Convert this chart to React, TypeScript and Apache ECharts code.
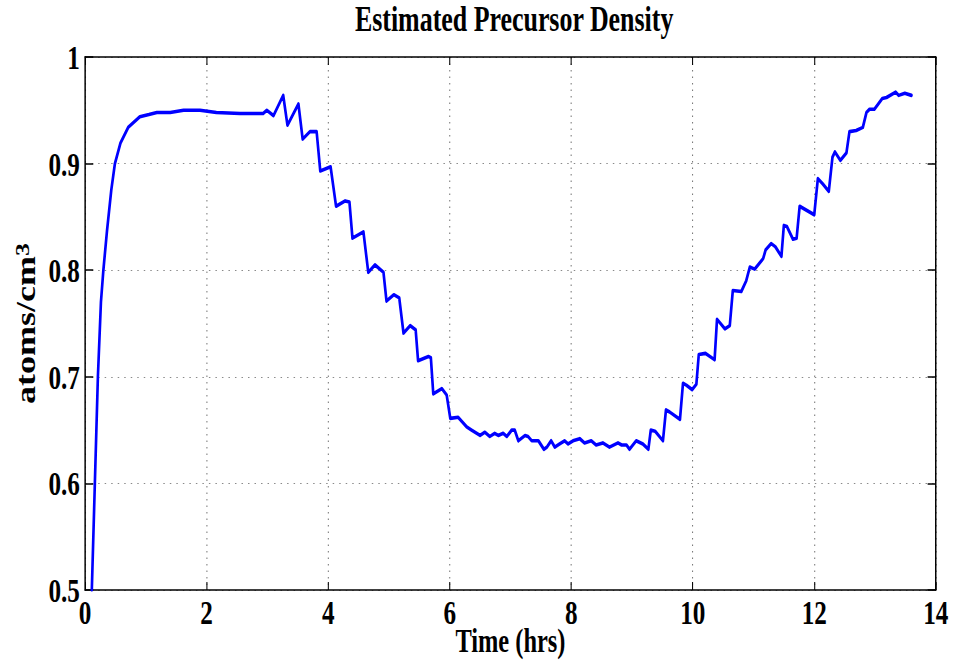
import React, { useEffect, useRef } from "react";
import * as echarts from "echarts";

// Elapsed time (hours) and estimated precursor density (atoms/cm^3)
const hours = [
  0.11, 0.16, 0.21, 0.26, 0.3, 0.36, 0.43, 0.49, 0.58, 0.71, 0.9, 1.05, 1.18, 1.4, 1.62, 1.89,
  2.16, 2.55, 2.93, 2.99, 3.1, 3.26, 3.33, 3.51, 3.58, 3.7, 3.81, 3.87, 4.04, 4.13, 4.28, 4.35,
  4.4, 4.58, 4.66, 4.77, 4.91, 4.96, 5.08, 5.17, 5.24, 5.35, 5.44, 5.48, 5.65, 5.69, 5.73, 5.87,
  5.95, 6.01, 6.14, 6.28, 6.36, 6.5, 6.58, 6.66, 6.74, 6.8, 6.88, 6.94, 7.02, 7.07, 7.13, 7.24,
  7.29, 7.35, 7.46, 7.55, 7.6, 7.67, 7.73, 7.81, 7.89, 7.95, 8.03, 8.14, 8.22, 8.33, 8.41, 8.52,
  8.63, 8.77, 8.83, 8.91, 8.96, 9.07, 9.18, 9.27, 9.31, 9.38, 9.51, 9.56, 9.62, 9.79, 9.84, 9.9,
  9.99, 10.06, 10.1, 10.21, 10.36, 10.4, 10.53, 10.61, 10.66, 10.8, 10.88, 10.94, 11.02, 11.16,
  11.2, 11.29, 11.36, 11.46, 11.5, 11.55, 11.65, 11.71, 11.76, 11.88, 12.0, 12.06, 12.14, 12.24,
  12.3, 12.34, 12.43, 12.53, 12.58, 12.69, 12.8, 12.86, 12.91, 12.99, 13.12, 13.19, 13.34, 13.39,
  13.49, 13.6,
];

const density = [
  0.5, 0.6, 0.7, 0.77, 0.8, 0.837, 0.875, 0.9, 0.919, 0.934, 0.944, 0.946, 0.948, 0.948, 0.95, 0.95,
  0.948, 0.947, 0.947, 0.95, 0.945, 0.964, 0.936, 0.956, 0.923, 0.93, 0.93, 0.893, 0.897, 0.86, 0.865, 0.864,
  0.83, 0.836, 0.798, 0.805, 0.798, 0.771, 0.777, 0.774, 0.741, 0.748, 0.744, 0.715, 0.719, 0.718, 0.684, 0.689,
  0.683, 0.661, 0.662, 0.653, 0.65, 0.645, 0.648, 0.644, 0.647, 0.645, 0.647, 0.644, 0.65, 0.65, 0.64, 0.645,
  0.644, 0.64, 0.64, 0.632, 0.634, 0.64, 0.634, 0.637, 0.64, 0.637, 0.64, 0.642, 0.638, 0.64, 0.636, 0.638,
  0.634, 0.638, 0.636, 0.636, 0.632, 0.64, 0.637, 0.632, 0.65, 0.649, 0.64, 0.669, 0.667, 0.66, 0.694, 0.692,
  0.688, 0.693, 0.721, 0.722, 0.716, 0.754, 0.745, 0.748, 0.781, 0.78, 0.79, 0.803, 0.801, 0.811,
  0.819, 0.825, 0.822, 0.813, 0.842, 0.841, 0.829, 0.83, 0.86, 0.856, 0.852, 0.886, 0.881, 0.874,
  0.906, 0.911, 0.903, 0.91, 0.93, 0.931, 0.934, 0.948, 0.951, 0.951, 0.961, 0.962, 0.967, 0.964,
  0.966, 0.964,
];

// Axis ranges and tick spacing
const timeRange = [0, 14];
const timeStep = 2;
const densityRange = [0.5, 1];
const densityStep = 0.1;

const titleText = "Estimated Precursor Density";
const xName = "Time (hrs)";
const yName = "atoms/cm{sup|3}";

// The figure uses a condensed typeface; the chart is laid out on a wider
// canvas and squeezed horizontally to get the narrow bold serif look.
const VIEW_W = 955;
const VIEW_H = 666;
const CANVAS_W = 1290;
const SQUEEZE = VIEW_W / CANVAS_W;

const FONT = "'Liberation Serif', 'Times New Roman', Times, serif";

export default function App() {
  const ref = useRef<HTMLDivElement>(null);

  useEffect(() => {
    if (!ref.current) return;
    const chart = echarts.init(ref.current, undefined, { renderer: "svg" });

    const points = hours.map((h, i) => [h, density[i]]);
    const gridLeft = 115;
    const gridRight = 26;
    const gridTop = 57;
    const gridBottom = 76;
    const plotCenter = gridLeft + (CANVAS_W - gridLeft - gridRight) / 2;

    const label = {
      color: "#000",
      fontFamily: FONT,
      fontWeight: "bold" as const,
      fontSize: 34,
    };
    const boxLine = { show: true, onZero: false, lineStyle: { color: "#000", width: 1.5 } };
    const boxLineV = { show: true, onZero: false, lineStyle: { color: "#000", width: 2 } };

    chart.setOption({
      animation: false,
      backgroundColor: "#fff",
      title: {
        text: titleText,
        left: plotCenter,
        top: -3,
        textAlign: "center",
        textStyle: { ...label, fontSize: 35 },
      },
      grid: {
        left: gridLeft,
        right: gridRight,
        top: gridTop,
        bottom: gridBottom,
        containLabel: false,
        outerBoundsMode: "none",
      },
      xAxis: [
        {
          type: "value",
          min: timeRange[0],
          max: timeRange[1],
          interval: timeStep,
          position: "bottom",
          axisLine: boxLine,
          axisTick: { show: true, inside: true, length: 8, lineStyle: { color: "#000", width: 1.4 } },
          axisLabel: { ...label, margin: 5 },
          splitLine: {
            show: true,
            lineStyle: { color: "#777", width: 1.4, type: [1.5, 5] },
          },
          name: xName,
          nameLocation: "middle",
          nameGap: 33,
          nameMoveOverlap: false,
          nameTextStyle: { ...label, fontSize: 33, lineHeight: 36 },
        },
        {
          type: "value",
          min: timeRange[0],
          max: timeRange[1],
          interval: timeStep,
          position: "top",
          axisLine: boxLine,
          axisTick: { show: true, inside: true, length: 8, lineStyle: { color: "#000", width: 1.4 } },
          axisLabel: { show: false },
          splitLine: { show: false },
        },
      ],
      yAxis: [
        {
          type: "value",
          min: densityRange[0],
          max: densityRange[1],
          interval: densityStep,
          position: "left",
          axisLine: boxLineV,
          axisTick: { show: true, inside: true, length: 11, lineStyle: { color: "#000", width: 1.5 } },
          axisLabel: { ...label, margin: 7 },
          splitLine: {
            show: true,
            lineStyle: { color: "#777", width: 1, type: [2, 6.8] },
          },
          name: yName,
          nameLocation: "middle",
          nameGap: 62,
          nameRotate: 90,
          nameMoveOverlap: false,
          nameTextStyle: {
            ...label,
            fontSize: 36,
            rich: {
              sup: {
                fontFamily: FONT,
                fontWeight: "bold",
                fontSize: 26,
                color: "#000",
                verticalAlign: "top",
              },
            },
          },
        },
        {
          type: "value",
          min: densityRange[0],
          max: densityRange[1],
          interval: densityStep,
          position: "right",
          axisLine: boxLineV,
          axisTick: { show: true, inside: true, length: 11, lineStyle: { color: "#000", width: 1.5 } },
          axisLabel: { show: false },
          splitLine: { show: false },
        },
      ],
      series: [
        {
          type: "line",
          xAxisIndex: 0,
          yAxisIndex: 0,
          data: points,
          showSymbol: false,
          symbol: "none",
          clip: true,
          lineStyle: { color: "#0000ff", width: 3.6, join: "round", cap: "round" },
        },
      ],
    });

    return () => chart.dispose();
  }, []);

  return (
    <div
      style={{
        position: "fixed",
        left: 0,
        top: 0,
        width: VIEW_W,
        height: VIEW_H,
        overflow: "hidden",
        background: "#fff",
      }}
    >
      <div
        ref={ref}
        style={{
          width: CANVAS_W,
          height: VIEW_H,
          transform: `scaleX(${SQUEEZE})`,
          transformOrigin: "0 0",
        }}
      />
    </div>
  );
}
